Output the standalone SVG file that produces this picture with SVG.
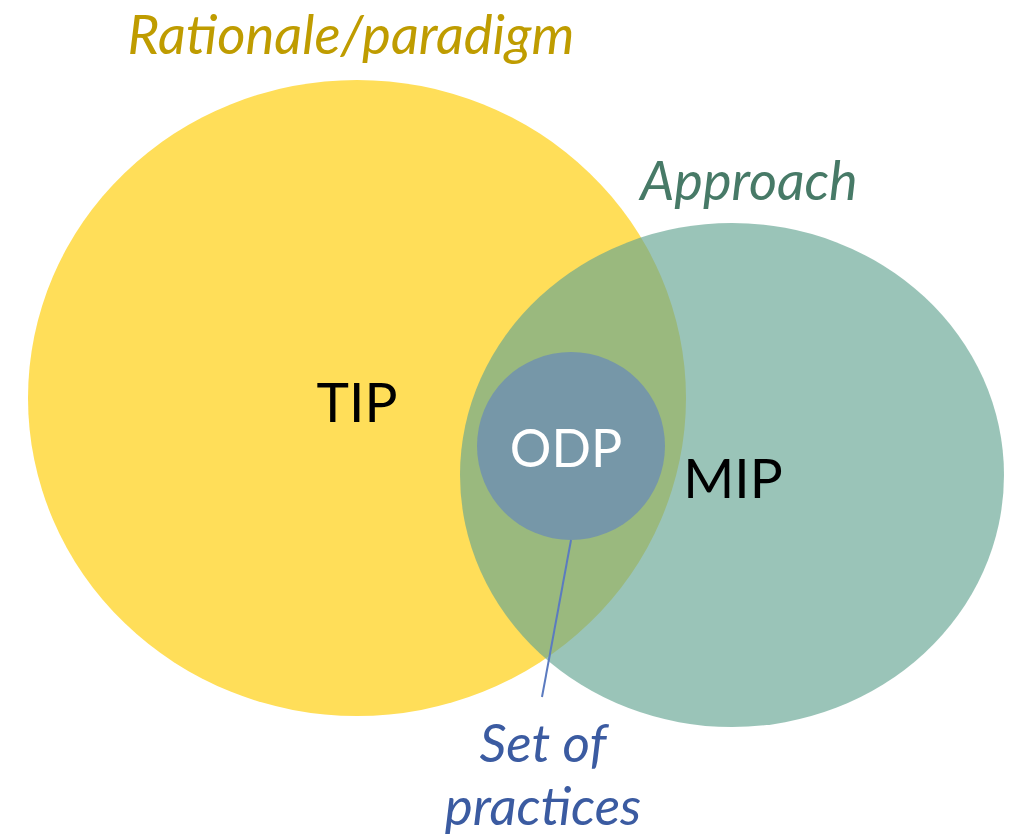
<svg xmlns="http://www.w3.org/2000/svg" width="1018" height="839" viewBox="0 0 1018 839">
<style>
.t{font-family:Lato,"Open Sans","Liberation Sans",sans-serif}
.it{font-style:italic}
</style>
<rect width="1018" height="839" fill="#fff"/>
<g id="tip"><ellipse cx="357" cy="398" rx="329" ry="318" fill="#FFDE59"/>
<text class="t" x="357" y="422" font-size="55" text-anchor="middle" fill="#000">TIP</text></g>
<g id="mip"><ellipse cx="732" cy="475" rx="272" ry="252" fill="#64A492" fill-opacity="0.65"/>
<text class="t" x="733" y="498" font-size="55" text-anchor="middle" fill="#000">MIP</text></g>
<g id="odp"><circle cx="571" cy="446" r="94" fill="#7697A8"/>
<text class="t" x="566" y="467" font-size="52" text-anchor="middle" fill="#fff">ODP</text></g>
<g id="connectors"><line x1="571" y1="540" x2="542" y2="697" stroke="#5B7BC0" stroke-width="2"/></g>
<g id="labels">
<text class="t it" x="351" y="54" font-size="54.5" text-anchor="middle" fill="#BF9C00">Rationale/paradigm</text>
<text class="t it" x="749" y="200" font-size="54" text-anchor="middle" fill="#477A67">Approach</text>
<text class="t it" x="543" y="762" font-size="53" text-anchor="middle" fill="#3B5BA1">Set of</text>
<text class="t it" x="543" y="825" font-size="53" text-anchor="middle" fill="#3B5BA1">practices</text>
</g>
</svg>
